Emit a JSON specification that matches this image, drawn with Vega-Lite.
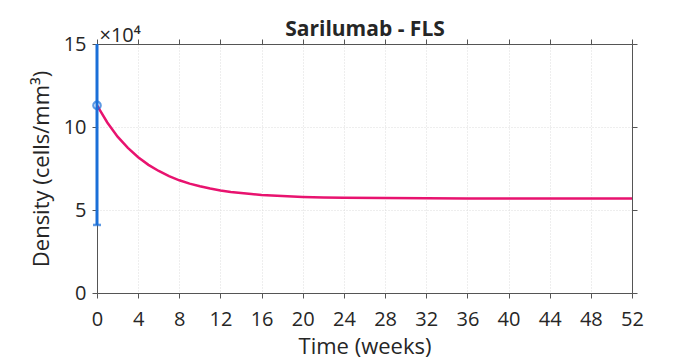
{
  "$schema": "https://vega.github.io/schema/vega-lite/v6.json",
  "autosize": "none",
  "width": 535,
  "height": 249,
  "padding": {"left": 97, "top": 44, "right": 65, "bottom": 68},
  "background": "white",
  "config": {
    "view": {"stroke": null},
    "font": "Open Sans",
    "axis": {
      "domainColor": "#555555",
      "tickColor": "#555555",
      "labelColor": "#262626",
      "titleColor": "#262626",
      "labelFont": "Open Sans",
      "titleFont": "Open Sans",
      "labelFontSize": 20,
      "titleFontSize": 22,
      "titleFontWeight": "normal",
      "tickSize": 5,
      "labelFlush": false,
      "labelOverlap": false,
      "gridColor": "#dcdcdc",
      "gridDash": [1, 2],
      "gridWidth": 1
    }
  },
  "datasets": {
    "curve": [
      {"t": 0, "v": 11.3}, {"t": 1, "v": 10.27}, {"t": 2, "v": 9.42}, {"t": 3, "v": 8.74},
      {"t": 4, "v": 8.18}, {"t": 5, "v": 7.72}, {"t": 6, "v": 7.35}, {"t": 7, "v": 7.04},
      {"t": 8, "v": 6.79}, {"t": 9, "v": 6.59}, {"t": 10, "v": 6.43}, {"t": 11, "v": 6.29},
      {"t": 12, "v": 6.18}, {"t": 13, "v": 6.09}, {"t": 14, "v": 6.02}, {"t": 15, "v": 5.96},
      {"t": 16, "v": 5.91}, {"t": 18, "v": 5.84}, {"t": 20, "v": 5.79}, {"t": 22, "v": 5.76},
      {"t": 24, "v": 5.74}, {"t": 28, "v": 5.72}, {"t": 32, "v": 5.71}, {"t": 36, "v": 5.7},
      {"t": 40, "v": 5.7}, {"t": 44, "v": 5.7}, {"t": 48, "v": 5.7}, {"t": 52, "v": 5.7}
    ],
    "obs": [
      {"t": 0, "mean": 11.3, "lo": 4.1, "hi": 15}
    ]
  },
  "resolve": {"axis": {"x": "independent", "y": "independent"}},
  "layer": [
    {
      "data": {"name": "curve"},
      "mark": {"type": "line", "color": "#e8136f", "strokeWidth": 2.5, "clip": true},
      "encoding": {
        "x": {
          "field": "t", "type": "quantitative",
          "scale": {"domain": [0, 52], "nice": false, "zero": false},
          "axis": {"orient": "bottom", "values": [0,4,8,12,16,20,24,28,32,36,40,44,48,52], "title": "Time (weeks)", "labelPadding": 11, "titlePadding": 7, "grid": true}
        },
        "y": {
          "field": "v", "type": "quantitative",
          "scale": {"domain": [0, 15], "nice": false},
          "axis": {"orient": "left", "values": [0, 5, 10, 15], "title": "Density (cells/mm³)", "labelPadding": 6, "titlePadding": 10, "grid": true}
        }
      }
    },
    {
      "data": {"name": "obs"},
      "mark": {"type": "rule", "color": "#1a6fd8", "strokeWidth": 3, "clip": false},
      "encoding": {
        "x": {
          "field": "t", "type": "quantitative",
          "axis": {"orient": "top", "values": [0,4,8,12,16,20,24,28,32,36,40,44,48,52], "labels": false, "grid": false, "title": "Sarilumab - FLS", "titleFontWeight": "bold", "titleFontSize": 21, "titleAnchor": "middle", "titleBaseline": "alphabetic", "titleY": -9}
        },
        "y": {
          "field": "lo", "type": "quantitative",
          "axis": {"orient": "right", "values": [0, 5, 10, 15], "labels": false, "grid": false, "title": "×10⁴", "titleAngle": 0, "titleAlign": "left", "titleBaseline": "alphabetic", "titleX": -533, "titleY": -3, "titleFontSize": 20}
        },
        "y2": {"field": "hi"}
      }
    },
    {
      "data": {"name": "obs"},
      "mark": {"type": "tick", "orient": "horizontal", "color": "#1a6fd8", "size": 8, "thickness": 2.5, "clip": false},
      "encoding": {
        "x": {"field": "t", "type": "quantitative", "axis": null},
        "y": {"field": "lo", "type": "quantitative", "axis": null}
      }
    },
    {
      "data": {"name": "obs"},
      "mark": {"type": "point", "shape": "circle", "filled": false, "color": "#1a6fd8", "size": 55, "strokeWidth": 2.2, "clip": false},
      "encoding": {
        "x": {"field": "t", "type": "quantitative", "axis": null},
        "y": {"field": "mean", "type": "quantitative", "axis": null}
      }
    }
  ]
}
